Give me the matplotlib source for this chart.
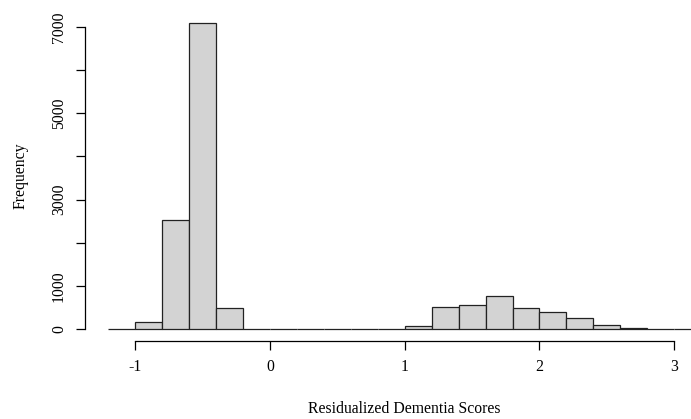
import numpy as np
import matplotlib
matplotlib.use("Agg")
import matplotlib.pyplot as plt

# histogram counts, bins of width 0.2 from -1.2 to 3.2
edges = [-1.2, -1.0, -0.8, -0.6, -0.4, -0.2, 0.0, 0.2, 0.4, 0.6, 0.8,
         1.0, 1.2, 1.4, 1.6, 1.8, 2.0, 2.2, 2.4, 2.6, 2.8, 3.0, 3.2]
counts = [0, 155, 2530, 7100, 480, 0, 0, 0, 0, 0, 8,
          80, 510, 550, 775, 495, 405, 255, 100, 25, 10, 0]

x_ticks = [-1, 0, 1, 2, 3]
y_ticks = [0, 1000, 2000, 3000, 4000, 5000, 6000, 7000]
y_labels = ['0', '1000', '', '3000', '', '5000', '', '7000']

plt.rcParams['font.family'] = ['Liberation Serif', 'DejaVu Serif']

fig = plt.figure(figsize=(6.91, 4.19), dpi=100)
# plot region runs past the right edge, like the cropped R device
ax = fig.add_axes([84.7 / 691, 77.7 / 419, 640.1 / 691, 331 / 419])

widths = np.diff(edges)
ax.bar(edges[:-1], counts, width=widths, align='edge',
       color='#d3d3d3', edgecolor='#222222', linewidth=0.9)

top = max(counts)
ax.set_xlim(edges[0] - 0.04 * (edges[-1] - edges[0]),
            edges[-1] + 0.04 * (edges[-1] - edges[0]))
ax.set_ylim(-0.04 * top, 1.04 * top)

for s in ['top', 'right']:
    ax.spines[s].set_visible(False)
ax.spines['bottom'].set_bounds(x_ticks[0], x_ticks[-1])
ax.spines['left'].set_bounds(y_ticks[0], y_ticks[-1])
ax.spines['bottom'].set_linewidth(0.9)
ax.spines['left'].set_linewidth(0.9)

ax.set_xticks(x_ticks)
ax.set_xticklabels([str(t) for t in x_ticks])
ax.set_yticks(y_ticks)
ax.set_yticklabels(y_labels, rotation=90, va='center')
ax.tick_params(length=6.8, width=0.9, labelsize=11.3, pad=6)

ax.set_xlabel('Residualized Dementia Scores', fontsize=11.3, labelpad=19)
ax.set_ylabel('Frequency', fontsize=11.3, labelpad=16)

fig.savefig('out.png', dpi=100)
